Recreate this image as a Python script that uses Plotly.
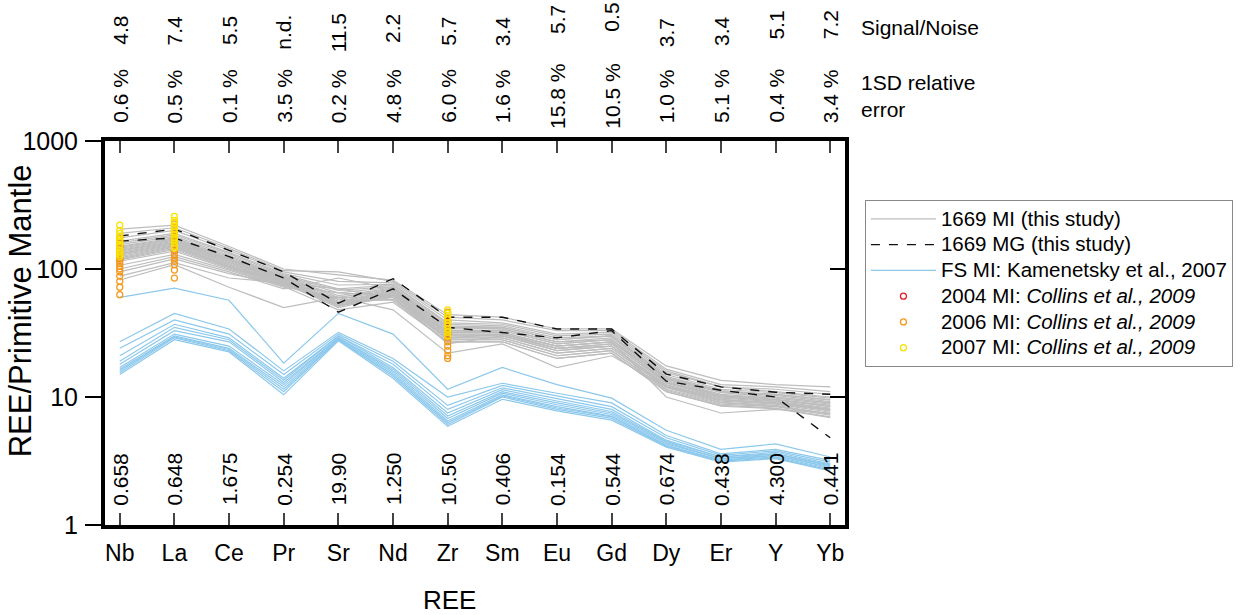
import plotly.graph_objects as go

# Element order along the x axis
elements = ["Nb", "La", "Ce", "Pr", "Sr", "Nd", "Zr", "Sm", "Eu", "Gd", "Dy", "Er", "Y", "Yb"]

# Header rows printed above the plot and detection-limit row inside it
signal_noise = ["4.8", "7.4", "5.5", "n.d.", "11.5", "2.2", "5.7", "3.4", "5.7", "0.5", "3.7", "3.4", "5.1", "7.2"]
rel_error = ["0.6 %", "0.5 %", "0.1 %", "3.5 %", "0.2 %", "4.8 %", "6.0 %", "1.6 %", "15.8 %", "10.5 %",
             "1.0 %", "5.1 %", "0.4 %", "3.4 %"]
detection = ["0.658", "0.648", "1.675", "0.254", "19.90", "1.250", "10.50", "0.406", "0.154", "0.544",
             "0.674", "0.438", "4.300", "0.441"]

# 1669 melt inclusions (normalised to primitive mantle)
mi_1669 = [
    [205, 220, 150, 100, 90, 82, 44, 42, 34, 34, 17.5, 13.5, 12.5, 12.0],
    [190, 210, 145, 97, 95, 80, 42, 40, 33, 33, 16.5, 12.5, 12.0, 11.0],
    [175, 200, 140, 95, 80, 78, 40, 38, 31, 32, 16.0, 12.0, 11.5, 10.5],
    [165, 190, 135, 92, 75, 76, 38, 37, 30, 31, 15.5, 12.0, 11.0, 10.0],
    [160, 185, 132, 90, 70, 75, 37, 36, 29, 30, 15.0, 11.5, 10.8, 9.8],
    [155, 180, 128, 88, 68, 73, 36, 35, 28, 30, 14.5, 11.2, 10.5, 9.5],
    [150, 175, 125, 87, 65, 72, 35, 34, 27, 29, 14.2, 11.0, 10.3, 9.2],
    [148, 172, 122, 86, 62, 71, 34, 34, 27, 28, 14.0, 10.8, 10.0, 9.0],
    [145, 170, 120, 85, 60, 70, 33, 33, 26, 28, 13.8, 10.5, 9.8, 8.8],
    [142, 168, 118, 84, 58, 69, 33, 32, 25, 27, 13.5, 10.3, 9.6, 8.6],
    [140, 165, 117, 83, 56, 68, 32, 32, 25, 27, 13.2, 10.2, 9.5, 8.4],
    [138, 162, 115, 82, 55, 67, 31, 31, 24, 26, 13.0, 10.0, 9.3, 8.2],
    [135, 160, 113, 81, 54, 66, 31, 31, 24, 26, 12.8, 9.8, 9.2, 8.0],
    [132, 158, 112, 80, 53, 65, 30, 30, 23, 25, 12.5, 9.6, 9.0, 7.9],
    [130, 155, 110, 79, 52, 64, 30, 30, 23, 25, 12.3, 9.5, 8.9, 7.8],
    [128, 152, 108, 78, 51, 63, 29, 29, 22, 24, 12.0, 9.3, 8.8, 7.6],
    [125, 150, 107, 77, 50, 62, 29, 29, 22, 24, 11.8, 9.1, 8.6, 7.4],
    [122, 148, 105, 76, 52, 60, 28, 28, 21, 23, 11.5, 9.0, 8.5, 7.3],
    [120, 145, 104, 75, 55, 58, 28, 28, 21, 23, 11.3, 8.8, 8.4, 7.2],
    [118, 142, 102, 74, 58, 57, 27, 27, 20, 22, 11.0, 8.6, 8.2, 7.0],
    [115, 138, 100, 73, 48, 55, 27, 27, 20, 22, 11.0, 8.5, 8.1, 6.9],
    [107, 130, 98, 72, 60, 60, 26, 30, 24, 25, 12.0, 9.5, 9.0, 8.0],
    [95, 120, 92, 75, 65, 62, 32, 33, 26, 28, 13.0, 10.0, 9.5, 8.5],
    [88, 112, 85, 78, 70, 60, 29, 31, 25, 27, 10.0, 7.5, 8.0, 7.5],
    [82, 108, 72, 50, 60, 48, 22, 26, 17, 21, 12.0, 10.0, 10.0, 9.0],
    [100, 125, 95, 70, 85, 70, 35, 35, 28, 30, 14.0, 11.0, 10.5, 9.5],
]

# 1669 matrix glass
mg_1669 = [
    [181, 205, 140, 95, 54, 84, 42, 42, 34, 34, 15.1, 12.0, 10.9, 10.5],
    [165, 175, 125, 85, 46, 70, 35, 32, 29, 33, 13.3, 11.3, 10.0, 4.8],
]

# FS melt inclusions, Kamenetsky et al. (2007)
fs_mi = [
    [60, 71, 57, 18.4, 45, 31, 11.5, 17.0, 12.5, 9.8, 5.5, 3.9, 4.3, 3.4],
    [27, 45, 34, 16.0, 32, 20, 10.0, 12.8, 10.7, 9.0, 5.0, 3.6, 3.9, 3.2],
    [24, 40, 31, 15.0, 31, 19, 8.6, 12.3, 10.2, 8.4, 4.8, 3.5, 3.8, 3.1],
    [21, 37, 29, 14.0, 30, 18, 8.0, 11.8, 9.7, 8.0, 4.6, 3.4, 3.7, 3.0],
    [19, 35, 28, 13.5, 30, 17, 7.5, 11.4, 9.3, 7.7, 4.5, 3.4, 3.6, 2.95],
    [18, 33, 27, 13.0, 29, 16.5, 7.1, 11.0, 9.0, 7.5, 4.4, 3.3, 3.6, 2.9],
    [17, 31, 25, 12.5, 29, 16, 6.8, 10.7, 8.7, 7.3, 4.3, 3.3, 3.5, 2.85],
    [16.5, 30, 24, 12.0, 28.5, 15.5, 6.5, 10.4, 8.4, 7.1, 4.2, 3.2, 3.5, 2.8],
    [16, 29.5, 23.5, 11.5, 28, 15, 6.3, 10.2, 8.2, 7.0, 4.15, 3.2, 3.4, 2.75],
    [15.5, 29, 23, 11.0, 28, 14.5, 6.1, 10.0, 8.0, 6.8, 4.1, 3.15, 3.35, 2.7],
    [15, 28, 22.5, 10.4, 27.5, 14, 5.9, 9.6, 7.8, 6.6, 4.05, 3.1, 3.3, 2.65],
]

# Collins et al. (2009) inclusions: only Nb, La and Zr reported
collins_nb_2004 = [150, 120]
collins_la_2004 = [175, 140]
collins_zr_2004 = [39, 31]
collins_nb_2006 = [175, 160, 145, 138, 128, 120, 115, 110, 105, 100, 95, 88, 80, 72, 63]
collins_la_2006 = [225, 210, 195, 180, 165, 155, 140, 130, 122, 115, 108, 98, 85]
collins_zr_2006 = [46, 41, 37, 33, 31, 29, 27, 25, 23, 21, 20]
collins_nb_2007 = [220, 200, 190, 180, 170, 165, 155, 150, 140, 135, 130, 125]
collins_la_2007 = [258, 240, 230, 215, 205, 195, 185, 175, 170, 160, 150, 145]
collins_zr_2007 = [48, 45, 42, 40, 38, 36, 34, 32, 30]

xpos = list(range(len(elements)))
FONT = "Liberation Sans, Arial, Helvetica, sans-serif"


def legend_label(text):
    # larger glyphs than the legend's base font, keeping rows compact
    return f'<span style="font-size:20.5px">{text}</span>'


fig = go.Figure()

for i, row in enumerate(mi_1669):
    fig.add_trace(go.Scatter(
        x=xpos, y=row, mode="lines", line=dict(color="#bdbdbd", width=1.2),
        name=legend_label("1669 MI (this study)"), legendgroup="mi", showlegend=(i == 0)))

for i, row in enumerate(mg_1669):
    fig.add_trace(go.Scatter(
        x=xpos, y=row, mode="lines", line=dict(color="#111111", width=1.4, dash="dash"),
        name=legend_label("1669 MG (this study)"), legendgroup="mg", showlegend=(i == 0)))

for i, row in enumerate(fs_mi):
    fig.add_trace(go.Scatter(
        x=xpos, y=row, mode="lines", line=dict(color="#8cc8ec", width=1.2),
        name=legend_label("FS MI: Kamenetsky et al., 2007"), legendgroup="fs", showlegend=(i == 0)))

collins = [
    ("2004", "#e8202a", collins_nb_2004, collins_la_2004, collins_zr_2004),
    ("2006", "#f39a1e", collins_nb_2006, collins_la_2006, collins_zr_2006),
    ("2007", "#f7e200", collins_nb_2007, collins_la_2007, collins_zr_2007),
]
for year, color, nb, la, zr in collins:
    xs = [elements.index("Nb")] * len(nb) + [elements.index("La")] * len(la) + [elements.index("Zr")] * len(zr)
    ys = nb + la + zr
    fig.add_trace(go.Scatter(
        x=xs, y=ys, mode="markers",
        marker=dict(symbol="circle-open", size=6, color=color, line=dict(width=1.3, color=color)),
        name=legend_label(f"{year} MI: <i>Collins et al., 2009</i>")))

# Empty trace so the right-hand tick axis is rendered
fig.add_trace(go.Scatter(x=[None], y=[None], yaxis="y2", showlegend=False, hoverinfo="skip"))

# Plot area: 743 px wide from x=105, 384 px tall from y=141
PLOT_LEFT, PLOT_W = 105, 743
PLOT_TOP, PLOT_H = 141, 384


def paper_x(px):
    return (px - PLOT_LEFT) / PLOT_W


def paper_y(py):
    return (PLOT_TOP + PLOT_H - py) / PLOT_H


def text_font(size):
    return dict(family=FONT, size=size, color="black")


sn_rows = [30, 30, 31, 32, 33, 29, 31, 31, 19, 17, 33, 31, 25, 25]
annotations = []
for i in xpos:
    annotations.append(dict(x=i, xref="x", y=paper_y(sn_rows[i]), yref="paper", text=signal_noise[i],
                            textangle=-90, xanchor="center", yanchor="middle", showarrow=False,
                            font=text_font(21)))
    annotations.append(dict(x=i, xref="x", y=paper_y(96), yref="paper", text=rel_error[i],
                            textangle=-90, xanchor="center", yanchor="middle", showarrow=False,
                            font=text_font(21)))
    annotations.append(dict(x=i, xref="x", y=paper_y(479), yref="paper", text=detection[i],
                            textangle=-90, xanchor="center", yanchor="middle", showarrow=False,
                            font=text_font(21)))

annotations.append(dict(x=paper_x(862), xref="paper", y=paper_y(27), yref="paper", text="Signal/Noise",
                        xanchor="left", yanchor="middle", showarrow=False, font=text_font(21)))
annotations.append(dict(x=paper_x(862), xref="paper", y=paper_y(96), yref="paper",
                        text="1SD relative<br>error", xanchor="left", yanchor="middle", align="left",
                        showarrow=False, font=text_font(21)))

# Axis titles
annotations.append(dict(x=paper_x(451), xref="paper", y=paper_y(600), yref="paper", text="REE",
                        xanchor="center", yanchor="middle", showarrow=False, font=text_font(26)))
annotations.append(dict(x=paper_x(20), xref="paper", y=paper_y(311), yref="paper",
                        text="REE/Primitive Mantle", textangle=-90, xanchor="center", yanchor="middle",
                        showarrow=False, font=text_font(31)))

fig.update_layout(
    width=1245, height=615, autosize=False,
    margin=dict(l=105, r=397, t=141, b=90),
    paper_bgcolor="white", plot_bgcolor="white",
    font=dict(family=FONT, color="black"),
    showlegend=True,
    legend=dict(x=paper_x(868), y=paper_y(200), xanchor="left", yanchor="top",
                bordercolor="#888888", borderwidth=1, bgcolor="white",
                font=text_font(17.5), itemwidth=65, tracegroupgap=0),
    annotations=annotations,
    xaxis=dict(
        range=[-0.27, 13.27], tickmode="array", tickvals=xpos, ticktext=elements,
        ticks="inside", ticklen=12, tickwidth=2, tickcolor="#444444", mirror="ticks",
        showline=True, linewidth=4, linecolor="black", showgrid=False, zeroline=False,
        tickfont=text_font(23), ticklabelstandoff=4, automargin=False,
    ),
    yaxis=dict(
        type="log", range=[0, 3], tickmode="array", tickvals=[1, 10, 100, 1000],
        ticktext=["1", "10", "100", "1000"],
        ticks="outside", ticklen=16, tickwidth=1.5, tickcolor="black",
        showline=True, linewidth=4, linecolor="black", mirror=True, showgrid=False, zeroline=False,
        tickfont=text_font(25), ticklabelstandoff=2, automargin=False,
    ),
    yaxis2=dict(
        type="log", range=[0, 3], overlaying="y", side="right", tickmode="array",
        tickvals=[10, 100], ticks="inside", ticklen=15, tickwidth=1.5, tickcolor="black",
        showticklabels=False, showgrid=False, zeroline=False, showline=False, automargin=False,
    ),
)

fig.write_html("out.html")
